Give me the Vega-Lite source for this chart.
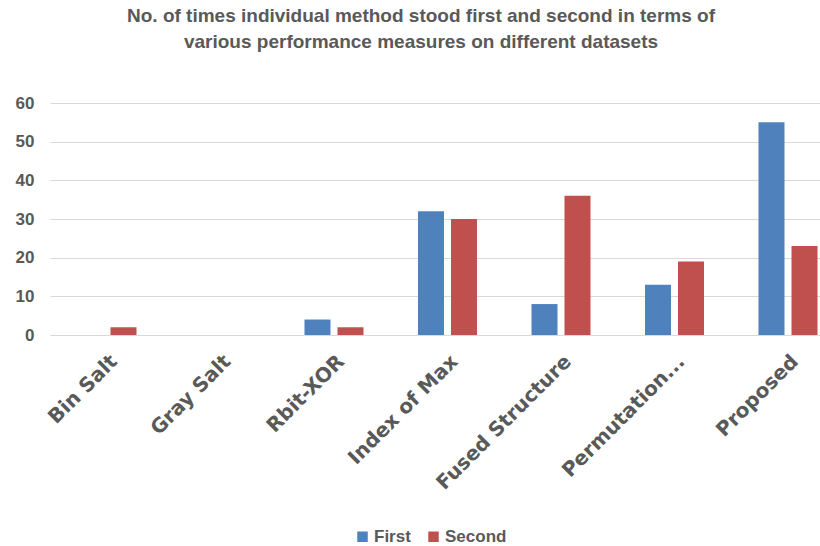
{
  "$schema": "https://vega.github.io/schema/vega-lite/v6.json",
  "autosize": {"type": "none"},
  "padding": {"left": 50, "top": 103, "right": 0, "bottom": 211},
  "width": 770,
  "height": 232,
  "background": "white",
  "title": {
    "text": ["No. of times individual method stood first and second in terms of", "various performance measures on different datasets"],
    "font": "Liberation Sans",
    "fontSize": 19,
    "fontWeight": "bold",
    "color": "#595959",
    "anchor": "middle",
    "dx": -14,
    "offset": 42,
    "lineHeight": 26
  },
  "data": {
    "values": [
      {"method": "Bin Salt", "rank": "First", "count": 0},
      {"method": "Bin Salt", "rank": "Second", "count": 2},
      {"method": "Gray Salt", "rank": "First", "count": 0},
      {"method": "Gray Salt", "rank": "Second", "count": 0},
      {"method": "Rbit-XOR", "rank": "First", "count": 4},
      {"method": "Rbit-XOR", "rank": "Second", "count": 2},
      {"method": "Index of Max", "rank": "First", "count": 32},
      {"method": "Index of Max", "rank": "Second", "count": 30},
      {"method": "Fused Structure", "rank": "First", "count": 8},
      {"method": "Fused Structure", "rank": "Second", "count": 36},
      {"method": "Permutation...", "rank": "First", "count": 13},
      {"method": "Permutation...", "rank": "Second", "count": 19},
      {"method": "Proposed", "rank": "First", "count": 55},
      {"method": "Proposed", "rank": "Second", "count": 23}
    ]
  },
  "mark": {"type": "bar"},
  "encoding": {
    "x": {
      "field": "method",
      "type": "nominal",
      "sort": null,
      "scale": {"paddingInner": 0.48, "paddingOuter": 0.132, "align": 0.917},
      "axis": {
        "title": null,
        "labelAngle": -45,
        "labelAlign": "right",
        "labelBaseline": "top",
        "labelFont": "DejaVu Sans",
        "labelFontSize": 20,
        "labelFontWeight": "bold",
        "labelColor": "#595959",
        "labelPadding": 16,
        "ticks": false,
        "domainColor": "#d9d9d9",
        "domainWidth": 1,
        "labelLimit": 300
      }
    },
    "xOffset": {
      "field": "rank",
      "type": "nominal",
      "scale": {"paddingInner": 0.212, "paddingOuter": 0}
    },
    "y": {
      "field": "count",
      "type": "quantitative",
      "scale": {"domain": [0, 60]},
      "axis": {
        "title": null,
        "values": [0, 10, 20, 30, 40, 50, 60],
        "labelFont": "Liberation Sans",
        "labelFontSize": 17,
        "labelFontWeight": "bold",
        "labelColor": "#595959",
        "labelPadding": 16,
        "ticks": false,
        "domain": false,
        "gridColor": "#d9d9d9",
        "gridWidth": 1
      }
    },
    "color": {
      "field": "rank",
      "type": "nominal",
      "scale": {"domain": ["First", "Second"], "range": ["#4F81BD", "#C0504D"]},
      "legend": {
        "title": null,
        "orient": "none",
        "direction": "horizontal",
        "legendX": 304,
        "legendY": 425,
        "symbolType": "square",
        "symbolSize": 110,
        "symbolStrokeWidth": 0,
        "labelFont": "Liberation Sans",
        "labelFontSize": 17,
        "labelFontWeight": "bold",
        "labelColor": "#595959",
        "labelOffset": 3,
        "columnPadding": 14
      }
    }
  },
  "config": {"view": {"stroke": null}}
}
